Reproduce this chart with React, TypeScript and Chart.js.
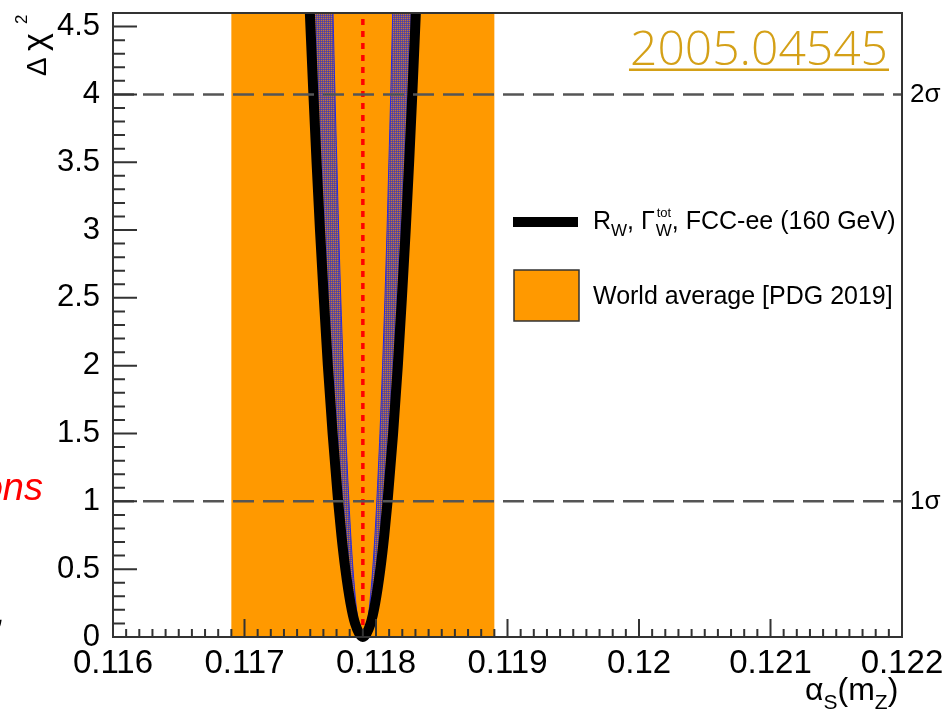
import React, { useEffect, useRef } from 'react';
import { Chart, registerables } from 'chart.js';

Chart.register(...registerables);

// ---- data ----
const chi2Levels = [0, 0.1, 0.25, 0.5, 0.75, 1, 1.5, 2, 2.5, 3, 3.5, 4, 4.6];
// FCC-ee total curve (thick black)
const totalLeft = [0.1179, 0.117841, 0.117806, 0.117767, 0.117737, 0.117712, 0.11767, 0.117634, 0.117603, 0.117574, 0.117548, 0.117524, 0.117497];
const totalRight = [0.1179, 0.117959, 0.117994, 0.118033, 0.118063, 0.118088, 0.11813, 0.118166, 0.118197, 0.118226, 0.118252, 0.118276, 0.118303];
// inner edge of the hatched band
const innerLeft = [0.1179, 0.117867, 0.117847, 0.117825, 0.117808, 0.117794, 0.11777, 0.11775, 0.117732, 0.117716, 0.117702, 0.117688, 0.117673];
const innerRight = [0.1179, 0.117934, 0.117953, 0.117975, 0.117992, 0.118006, 0.11803, 0.11805, 0.118068, 0.118084, 0.118098, 0.118112, 0.118127];
const centralValue = [0.1179];
const worldAverageBand = [0.1169, 0.1189];
const sigmaLevels = [1, 4];
const sigmaLabels = ['1σ', '2σ'];
const xRange = [0.116, 0.122];
const yRange = [0, 4.6];
const xStep = 0.001;
const yStep = 0.5;
const legendLabels = ['FCC-ee (160 GeV)', 'World average [PDG 2019]'];
const arxivId = '2005.04545';

const FONT = '"Liberation Sans", Arial, Helvetica, sans-serif';

function pts(xs: number[], ys: number[], idx: number[]) {
  return idx.map((i) => ({ x: xs[i], y: ys[i] }));
}

export default function App() {
  const ref = useRef<HTMLCanvasElement | null>(null);

  useEffect(() => {
    const canvas = ref.current;
    if (!canvas) return;
    const n = chi2Levels.length;
    const up = Array.from({ length: n }, (_, i) => i);
    const down = [...up].reverse();

    // hatch pattern
    const pc = document.createElement('canvas');
    pc.width = 2;
    pc.height = 2;
    const p = pc.getContext('2d')!;
    p.fillStyle = '#6c4c8a';
    p.fillRect(0, 0, 2, 2);
    p.fillStyle = '#c47a3a';
    p.fillRect(1, 0, 1, 1);
    p.fillStyle = '#4a40a8';
    p.fillRect(0, 1, 1, 1);
    const hatch = canvas.getContext('2d')!.createPattern(pc, 'repeat');

    const blackCurve = [
      ...pts(totalLeft, chi2Levels, down),
      ...pts(totalRight, chi2Levels, up.slice(1)),
    ];
    const innerCurve = [
      ...pts(innerLeft, chi2Levels, down),
      ...pts(innerRight, chi2Levels, up.slice(1)),
    ];
    const leftCrescent = [
      ...pts(totalLeft, chi2Levels, down),
      ...pts(innerLeft, chi2Levels, up.slice(1)),
    ];
    const rightCrescent = [
      ...pts(totalRight, chi2Levels, up),
      ...pts(innerRight, chi2Levels, down.slice(0, n - 1)),
    ];
    const band = [
      { x: worldAverageBand[0], y: yRange[0] },
      { x: worldAverageBand[0], y: yRange[1] },
      { x: worldAverageBand[1], y: yRange[1] },
      { x: worldAverageBand[1], y: yRange[0] },
    ];
    const central = [
      { x: centralValue[0], y: yRange[0] },
      { x: centralValue[0], y: yRange[1] },
    ];

    const common = { pointRadius: 0, pointHoverRadius: 0, tension: 0 };

    const datasets: any[] = [
      ...sigmaLevels.map((lv) => ({
        ...common,
        label: 'sigma' + lv,
        data: [
          { x: xRange[0], y: lv },
          { x: xRange[1], y: lv },
        ],
        borderColor: '#555555',
        borderWidth: 2.5,
        borderDash: [21, 9],
        fill: false,
        order: 0,
      })),
      {
        ...common,
        label: 'total',
        data: blackCurve,
        borderColor: '#000000',
        borderWidth: 10,
        cubicInterpolationMode: 'monotone',
        fill: false,
        clip: { left: 0, top: 0, right: 0, bottom: 10 },
        order: 1,
      },
      {
        ...common,
        label: 'inner',
        data: innerCurve,
        borderColor: '#2a2ae0',
        borderWidth: 1,
        cubicInterpolationMode: 'monotone',
        fill: false,
        order: 2,
      },
      {
        ...common,
        label: 'hatchL',
        data: leftCrescent,
        borderWidth: 0,
        borderColor: 'rgba(0,0,0,0)',
        backgroundColor: hatch,
        fill: 'shape',
        order: 3,
      },
      {
        ...common,
        label: 'hatchR',
        data: rightCrescent,
        borderWidth: 0,
        borderColor: 'rgba(0,0,0,0)',
        backgroundColor: hatch,
        fill: 'shape',
        order: 3,
      },
      {
        ...common,
        label: 'central',
        data: central,
        borderColor: '#ff0000',
        borderWidth: 3.5,
        borderDash: [6, 6],
        fill: false,
        order: 4,
      },
      {
        ...common,
        label: 'band',
        data: band,
        borderWidth: 0,
        borderColor: 'rgba(0,0,0,0)',
        backgroundColor: '#ff9900',
        fill: 'shape',
        order: 5,
      },
    ];

    const decor = {
      id: 'rootDecor',
      afterDatasetsDraw(chart: any) {
        const { ctx, chartArea: a, scales } = chart;
        const x = scales.x;
        const y = scales.y;
        ctx.save();
        ctx.strokeStyle = '#333333';
        ctx.lineWidth = 2;
        ctx.beginPath();
        const xt = x.ticks.map((t: any) => t.value);
        for (let i = 0; i < xt.length; i++) {
          const px = x.getPixelForValue(xt[i]);
          ctx.moveTo(px, a.bottom);
          ctx.lineTo(px, a.bottom - 18);
          if (i < xt.length - 1) {
            for (let k = 1; k < 10; k++) {
              const v = xt[i] + ((xt[i + 1] - xt[i]) * k) / 10;
              const q = x.getPixelForValue(v);
              ctx.moveTo(q, a.bottom);
              ctx.lineTo(q, a.bottom - 8);
            }
          }
        }
        const yt = y.ticks.map((t: any) => t.value);
        for (let i = 0; i < yt.length; i++) {
          const py = y.getPixelForValue(yt[i]);
          ctx.moveTo(a.left, py);
          ctx.lineTo(a.left + 24, py);
          for (let k = 1; k < 5; k++) {
            const v = yt[i] + (yStep * k) / 5;
            if (v > yRange[1] - 1e-9) break;
            const q = y.getPixelForValue(v);
            ctx.moveTo(a.left, q);
            ctx.lineTo(a.left + 12, q);
          }
        }
        ctx.stroke();
        ctx.strokeRect(a.left, a.top, a.right - a.left, a.bottom - a.top);
        ctx.restore();
      },
      afterDraw(chart: any) {
        const { ctx, chartArea: a, scales } = chart;
        const y = scales.y;
        ctx.save();
        // sigma labels
        ctx.fillStyle = '#000';
        ctx.font = `26px ${FONT}`;
        ctx.textBaseline = 'middle';
        ctx.textAlign = 'left';
        sigmaLevels.forEach((lv, i) => {
          ctx.fillText(sigmaLabels[i], a.right + 8, y.getPixelForValue(lv));
        });

        // legend
        ctx.textBaseline = 'alphabetic';
        ctx.fillStyle = '#000';
        ctx.fillRect(513, 217, 65, 10);
        let cx = 593;
        const base1 = 229;
        const big = `25px ${FONT}`;
        const sub = `17px ${FONT}`;
        const sup = `13px ${FONT}`;
        ctx.font = big;
        ctx.fillText('R', cx, base1);
        cx += ctx.measureText('R').width;
        ctx.font = sub;
        ctx.fillText('W', cx, base1 + 7);
        cx += ctx.measureText('W').width;
        ctx.font = big;
        ctx.fillText(', Γ', cx, base1);
        cx += ctx.measureText(', Γ').width + 1;
        ctx.font = sub;
        ctx.fillText('W', cx, base1 + 7);
        const ww = ctx.measureText('W').width;
        ctx.font = sup;
        ctx.fillText('tot', cx + 1, base1 - 12);
        cx += Math.max(ww, ctx.measureText('tot').width + 1);
        ctx.font = big;
        ctx.fillText(', ' + legendLabels[0], cx, base1);

        ctx.fillStyle = '#ff9900';
        ctx.fillRect(514, 270, 65, 51);
        ctx.strokeStyle = '#333';
        ctx.lineWidth = 1.5;
        ctx.strokeRect(514, 270, 65, 51);
        ctx.fillStyle = '#000';
        ctx.font = big;
        ctx.fillText(legendLabels[1], 593, 304);

        // arXiv id
        ctx.fillStyle = '#d4a017';
        ctx.font = `300 48px "Open Sans", ${FONT}`;
        ctx.textAlign = 'right';
        ctx.fillText(arxivId, 888, 65);
        const tw = ctx.measureText(arxivId).width;
        ctx.fillRect(888 - tw - 1, 68.5, tw + 2, 2.5);

        // x title
        ctx.textAlign = 'left';
        ctx.fillStyle = '#000';
        let tx = 805;
        const xb = 700;
        ctx.font = `32px ${FONT}`;
        ctx.fillText('α', tx, xb);
        tx += ctx.measureText('α').width;
        ctx.font = `21px ${FONT}`;
        ctx.fillText('S', tx, xb + 9);
        tx += ctx.measureText('S').width;
        ctx.font = `32px ${FONT}`;
        ctx.fillText('(m', tx, xb);
        tx += ctx.measureText('(m').width;
        ctx.font = `21px ${FONT}`;
        ctx.fillText('Z', tx, xb + 9);
        tx += ctx.measureText('Z').width;
        ctx.font = `32px ${FONT}`;
        ctx.fillText(')', tx, xb);

        // y title (rotated)
        ctx.save();
        ctx.translate(46, 76);
        ctx.rotate(-Math.PI / 2);
        ctx.font = `28px ${FONT}`;
        ctx.fillText('Δ', 0, 0);
        ctx.font = `34px ${FONT}`;
        ctx.fillText('χ', 25, 0);
        ctx.font = `17px ${FONT}`;
        ctx.fillText('2', 52, -19);
        ctx.restore();

        // remnants of the slide around the figure
        ctx.fillStyle = '#ff0000';
        ctx.font = `italic 38px ${FONT}`;
        ctx.textAlign = 'right';
        ctx.fillText('ons', 43, 500);
        ctx.fillStyle = '#000';
        ctx.fillText(',', 6, 624);
        ctx.restore();
      },
    };

    const chart = new Chart(canvas, {
      type: 'line',
      data: { datasets },
      options: {
        animation: false,
        responsive: false,
        devicePixelRatio: 1,
        events: [],
        layout: { padding: { top: 13, right: 45, left: 0, bottom: 0 } },
        plugins: { legend: { display: false }, tooltip: { enabled: false }, title: { display: false } },
        scales: {
          x: {
            type: 'linear',
            min: xRange[0],
            max: xRange[1],
            grid: { display: false },
            border: { display: false },
            ticks: {
              stepSize: xStep,
              maxRotation: 0,
              autoSkip: false,
              padding: -1,
              color: '#000',
              font: { family: FONT, size: 33 },
              callback: (v: any) => String(parseFloat(Number(v).toFixed(4))),
            },
            afterFit: (s: any) => {
              s.height = 76;
              s.paddingLeft = 0;
              s.paddingRight = 0;
            },
          },
          y: {
            type: 'linear',
            min: yRange[0],
            max: yRange[1],
            grid: { display: false },
            border: { display: false },
            ticks: {
              stepSize: yStep,
              includeBounds: false,
              padding: 5,
              color: '#000',
              font: { family: FONT, size: 31 },
              callback: (v: any) => String(Math.round(Number(v) * 10) / 10),
            },
            afterFit: (s: any) => {
              s.width = 113;
              s.paddingTop = 0;
              s.paddingBottom = 0;
            },
          },
        },
      },
      plugins: [decor],
    } as any);
    return () => chart.destroy();
  }, []);

  return (
    <div style={{ position: 'fixed', left: 0, top: 0, width: 947, height: 713, background: '#fff' }}>
      <canvas ref={ref} width={947} height={713} style={{ display: 'block' }} />
    </div>
  );
}
